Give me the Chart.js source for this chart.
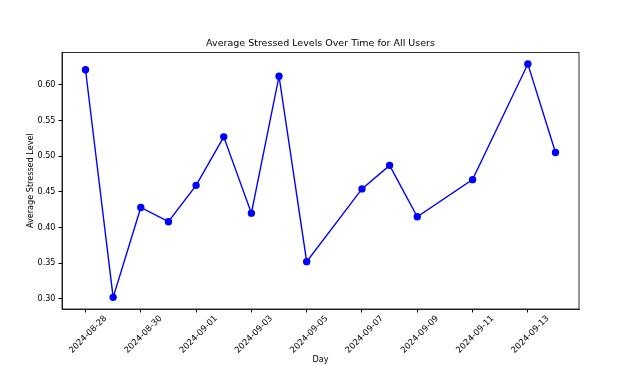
<!DOCTYPE html>
<html lang="en">
<head>
  <meta charset="UTF-8" />
  <title>Average Stressed Levels Over Time for All Users</title>
  <style>
    * { box-sizing: border-box; }
    body { margin: 0; background: #fff; }
    .chart-container { width: 618px; height: 370px; }
  </style>
</head>
<body>
  <div class="chart-container">
    <canvas id="stressChart" role="img" aria-label="Average stressed level per day"></canvas>
  </div>

  <script src="https://cdn.jsdelivr.net/npm/chart.js"></script>
  <script>
    // Data
    const days = ['2024-08-28', '2024-08-29', '2024-08-30', '2024-08-31', '2024-09-01',
                  '2024-09-02', '2024-09-03', '2024-09-04', '2024-09-05', '2024-09-07',
                  '2024-09-08', '2024-09-09', '2024-09-11', '2024-09-13', '2024-09-14'];
    const stressLevels = [0.621, 0.302, 0.428, 0.408, 0.459,
                          0.527, 0.420, 0.612, 0.352, 0.454,
                          0.487, 0.415, 0.467, 0.629, 0.505];
    const xTickDates = ['2024-08-28', '2024-08-30', '2024-09-01', '2024-09-03', '2024-09-05',
                        '2024-09-07', '2024-09-09', '2024-09-11', '2024-09-13'];
    const yTicks = [0.30, 0.35, 0.40, 0.45, 0.50, 0.55, 0.60];

    const DAY = 86400000;
    const start = Date.parse(days[0]);
    const toDay = d => (Date.parse(d) - start) / DAY;

    const points = days.map((d, i) => ({ x: toDay(d), y: stressLevels[i] }));
    const tickDays = xTickDates.map(toDay);
    const dayLabel = {};
    xTickDates.forEach(d => { dayLabel[toDay(d)] = d; });

    // matplotlib-like 5% margins
    const xs = points.map(p => p.x), ys = points.map(p => p.y);
    const xPad = (Math.max(...xs) - Math.min(...xs)) * 0.05;
    const yPad = (Math.max(...ys) - Math.min(...ys)) * 0.05;

    const font = { family: 'DejaVu Sans', size: 8.1 };
    const xFont = { family: 'DejaVu Sans', size: 8.5 };

    // box around the plot area, like the matplotlib spines
    const frame = {
      id: 'frame',
      afterDraw(chart) {
        const { ctx, chartArea: a } = chart;
        ctx.save();
        ctx.strokeStyle = '#000';
        ctx.lineWidth = 0.8;
        ctx.strokeRect(a.left, a.top, a.right - a.left, a.bottom - a.top);
        ctx.restore();
      }
    };

    new Chart(document.getElementById('stressChart'), {
      type: 'line',
      data: {
        datasets: [{
          label: 'Average Stressed Level',
          data: points,
          borderColor: '#0000ff',
          backgroundColor: '#0000ff',
          borderWidth: 1.4,
          pointRadius: 3,
          pointHoverRadius: 3,
          tension: 0
        }]
      },
      options: {
        responsive: true,
        maintainAspectRatio: false,
        animation: false,
        layout: { padding: { left: 23, right: 0, top: 0, bottom: 0 } },
        plugins: {
          legend: { display: false },
          tooltip: { enabled: false },
          title: {
            display: true,
            text: 'Average Stressed Levels Over Time for All Users',
            color: '#000',
            font: { family: 'DejaVu Sans', size: 9.5, weight: 'normal' },
            padding: { top: 38, bottom: 3 }
          }
        },
        scales: {
          x: {
            type: 'linear',
            min: Math.min(...xs) - xPad,
            max: Math.max(...xs) + xPad,
            afterBuildTicks: s => { s.ticks = tickDays.map(v => ({ value: v })); },
            afterFit: s => { s.height = 61; },
            ticks: {
              color: '#000',
              font: xFont,
              minRotation: 45,
              maxRotation: 45,
              labelOffset: 20,
              padding: 1,
              callback: v => dayLabel[v] || ''
            },
            grid: { drawOnChartArea: false, drawTicks: true, tickLength: 3.5, tickColor: '#000' },
            border: { color: '#000', width: 0.8 },
            title: { display: true, text: 'Day', color: '#000', font: font, padding: { top: 0, bottom: 5 } }
          },
          y: {
            min: Math.min(...ys) - yPad,
            max: Math.max(...ys) + yPad,
            afterBuildTicks: s => { s.ticks = yTicks.map(v => ({ value: v })); },
            afterFit: s => { s.width = 39; },
            ticks: {
              color: '#000',
              font: font,
              padding: 3,
              callback: v => v.toFixed(2)
            },
            grid: { drawOnChartArea: false, drawTicks: true, tickLength: 3.5, tickColor: '#000' },
            border: { color: '#000', width: 0.8 },
            title: { display: true, text: 'Average Stressed Level', color: '#000', font: font, padding: { top: 3, bottom: 0 } }
          },
          // empty right-hand spacer so the title centres over the plot
          spacer: {
            position: 'right',
            display: true,
            afterFit: s => { s.width = 39; },
            ticks: { display: false },
            grid: { display: false },
            border: { display: false }
          }
        }
      },
      plugins: [frame]
    });
  </script>
</body>
</html>
